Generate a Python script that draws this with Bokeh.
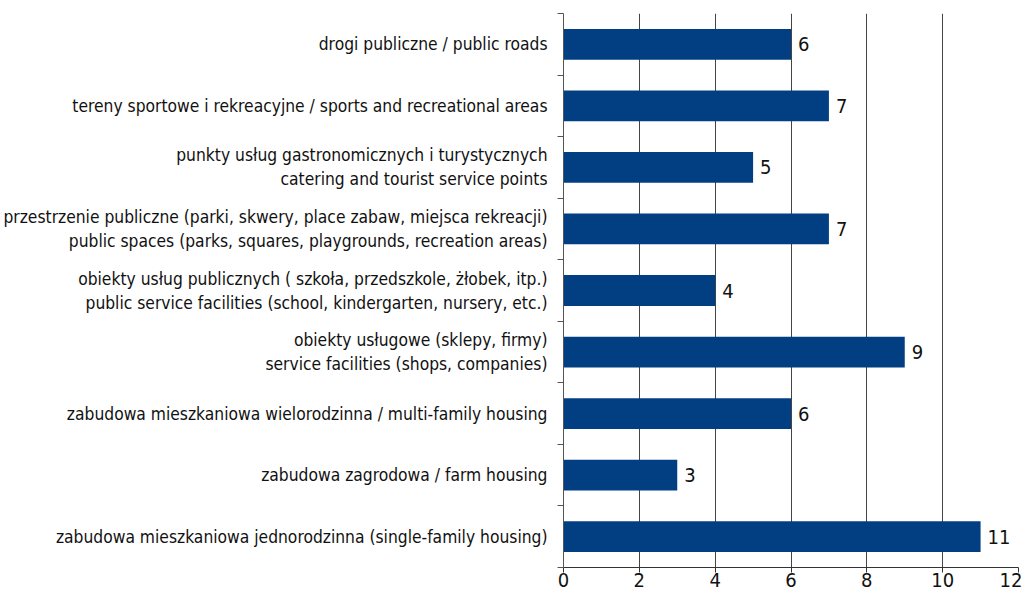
from bokeh.plotting import figure
from bokeh.models import Range1d, LinearAxis, FixedTicker, ColumnDataSource
from bokeh.core.properties import value
from bokeh.embed import file_html
from bokeh.resources import INLINE

categories = [
    "drogi publiczne / public roads",
    "tereny sportowe i rekreacyjne / sports and recreational areas",
    "punkty usług gastronomicznych i turystycznych\ncatering and tourist service points",
    "przestrzenie publiczne (parki, skwery, place zabaw, miejsca rekreacji)\npublic spaces (parks, squares, playgrounds, recreation areas)",
    "obiekty usług publicznych ( szkoła, przedszkole, żłobek, itp.)\npublic service facilities (school, kindergarten, nursery, etc.)",
    "obiekty usługowe (sklepy, firmy)\nservice facilities (shops, companies)",
    "zabudowa mieszkaniowa wielorodzinna / multi-family housing",
    "zabudowa zagrodowa / farm housing",
    "zabudowa mieszkaniowa jednorodzinna (single-family housing)",
]
values = [6, 7, 5, 7, 4, 9, 6, 3, 11]
x_ticks = [0, 2, 4, 6, 8, 10, 12]

FONT = "Liberation Sans Narrow, DejaVu Sans Condensed, Roboto Condensed, Arial Narrow, Roboto, sans-serif"
BAR = "#023f82"

n = len(categories)
ypos = [n - 0.5 - i for i in range(n)]
src = ColumnDataSource(dict(y=ypos, val=values, lab=[str(v) for v in values]))

p = figure(
    width=1022, height=591,
    y_range=Range1d(0, n),
    x_range=Range1d(0, 12),
    output_backend="svg", toolbar_location=None,
    min_border_left=562, min_border_right=4, min_border_top=13, min_border_bottom=24,
)
p.outline_line_color = None
p.background_fill_color = "white"

p.hbar(y="y", right="val", left=0, height=0.5, source=src, color=BAR, line_color=None)
p.text(x="val", y="y", text="lab", source=src, x_offset=7, text_align="left",
       text_baseline="middle", text_font=value(FONT), text_font_size="20px", text_color="#111111")

# x axis
xa = p.xaxis[0]
xa.ticker = FixedTicker(ticks=x_ticks)
xa.axis_line_color = "#333333"
xa.major_tick_line_color = "#333333"
xa.major_tick_out = 5
xa.major_tick_in = 0
xa.minor_tick_line_color = None
xa.major_label_text_font = FONT
xa.major_label_text_font_size = "20px"
xa.major_label_text_color = "#111111"
xa.major_label_standoff = 0

p.xgrid.ticker = FixedTicker(ticks=x_ticks)
p.xgrid.grid_line_color = "#444444"
p.xgrid.grid_line_width = 1
p.ygrid.grid_line_color = None

# tick-only axis at category boundaries (nearest the plot)
ta = p.yaxis[0]
ta.ticker = FixedTicker(ticks=list(range(n + 1)))
ta.axis_line_color = "#555555"
ta.major_tick_line_color = "#555555"
ta.major_tick_out = 6
ta.major_tick_in = 0
ta.minor_tick_line_color = None
ta.major_label_text_font_size = "1px"
ta.major_label_standoff = 0
ta.major_label_overrides = {i: "" for i in range(n + 1)}

# category label axis (no line, no ticks)
la = LinearAxis(ticker=FixedTicker(ticks=ypos))
la.axis_line_color = None
la.major_tick_line_color = None
la.minor_tick_line_color = None
la.major_tick_out = 0
la.major_tick_in = 0
la.major_label_text_font = FONT
la.major_label_text_font_size = "17.3px"
la.major_label_text_color = "#111111"
la.major_label_standoff = 10
la.major_label_overrides = {y: c for y, c in zip(ypos, categories)}
p.add_layout(la, "left")

open("out.html", "w").write(file_html(p, INLINE))
